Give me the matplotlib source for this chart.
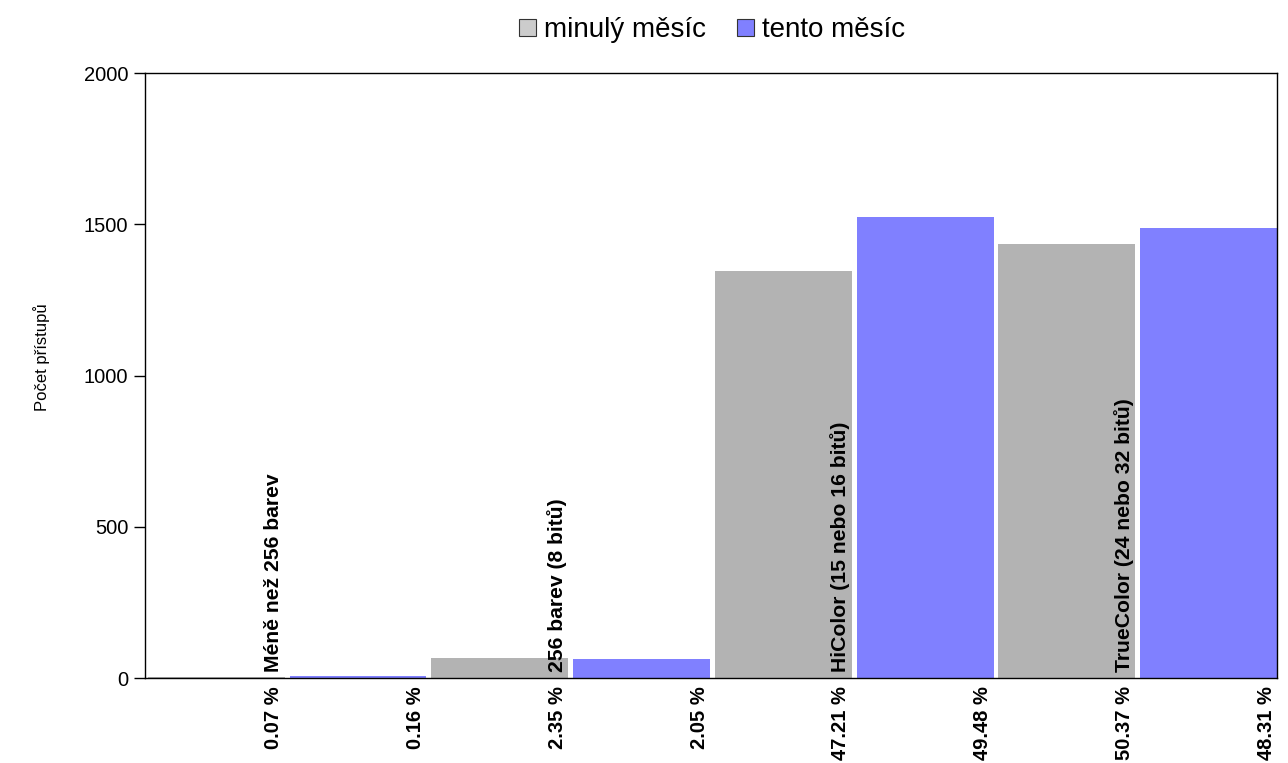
import matplotlib
matplotlib.use('Agg')
import matplotlib.pyplot as plt
from matplotlib.patches import Patch

plt.rcParams['font.family'] = ['Liberation Sans', 'DejaVu Sans']

# data
categories = ['Méně než 256 barev', '256 barev (8 bitů)',
              'HiColor (15 nebo 16 bitů)', 'TrueColor (24 nebo 32 bitů)']
last_month = [2, 67, 1345, 1435]
this_month = [5, 63, 1524, 1488]
pct_last = ['0.07 %', '2.35 %', '47.21 %', '50.37 %']
pct_this = ['0.16 %', '2.05 %', '49.48 %', '48.31 %']
series_names = ['minulý měsíc', 'tento měsíc']

c_last = '#b3b3b3'
c_this = '#8080ff'
bw = 0.965

fig = plt.figure(figsize=(12.88, 7.63), dpi=100)
ax = fig.add_axes([0.1126, 0.1114, 0.9915 - 0.1126, 0.9043 - 0.1114])

for i in range(len(categories)):
    xg = 2 * i
    xb = 2 * i + 1
    ax.bar(xg, last_month[i], width=bw, align='edge', color=c_last, linewidth=0)
    ax.bar(xb, this_month[i], width=bw, align='edge', color=c_this, linewidth=0)
    # category name inside the plot, at right edge of the grey bar
    ax.annotate(categories[i], xy=(xg + bw, 0), xycoords=('data', 'axes fraction'),
                xytext=(-1, 4), textcoords='offset points',
                rotation=90, ha='right', va='bottom', fontsize=15.2, fontweight='bold')
    # percentages under the axis
    for x, p in ((xg, pct_last[i]), (xb, pct_this[i])):
        ax.annotate(p, xy=(x + bw, 0), xycoords=('data', 'axes fraction'),
                    xytext=(-1, -6), textcoords='offset points',
                    rotation=90, ha='right', va='top', fontsize=14.5, fontweight='bold')

ax.set_xlim(-0.02, 7.965)
ax.set_ylim(0, 2000)
ax.set_yticks([0, 500, 1000, 1500, 2000])
ax.set_xticks([])
ax.tick_params(axis='y', direction='out', length=8, width=1, labelsize=14.5, pad=4)
for s in ax.spines.values():
    s.set_linewidth(1)
    s.set_color('black')
ax.set_ylabel('Počet přístupů', fontsize=12)
ax.yaxis.set_label_coords(-0.084, 0.53)

handles = [Patch(facecolor='#cccccc', edgecolor='#333333', linewidth=0.8),
           Patch(facecolor=c_this, edgecolor='#333333', linewidth=0.8)]
fig.legend(handles, series_names, loc='upper center', bbox_to_anchor=(0.553, 1.01),
           ncol=2, frameon=False, fontsize=20, handlelength=0.6, handleheight=0.6,
           handletextpad=0.3, columnspacing=1.1)

fig.savefig('out.png', dpi=100)
